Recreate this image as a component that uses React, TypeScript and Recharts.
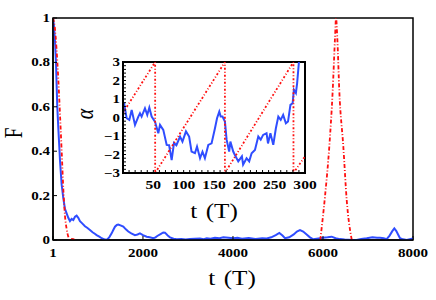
import React from "react";
import { LineChart, Line, XAxis, YAxis, ReferenceArea } from "recharts";

// main panel: fidelity F vs t (in units of T)
const blueT = [1, 20, 44, 67, 96, 120, 141, 156, 193, 229, 267, 304, 341, 378, 415, 452, 490, 526, 563, 600, 650, 711, 760, 822, 880, 930, 970, 1030, 1082, 1140, 1193, 1250, 1304, 1340, 1378, 1420, 1452, 1500, 1563, 1620, 1674, 1740, 1822, 1880, 1933, 2000, 2082, 2150, 2230, 2280, 2318, 2400, 2450, 2489, 2550, 2600, 2680, 2749, 2850, 2950, 3045, 3150, 3267, 3350, 3416, 3500, 3600, 3700, 3786, 3900, 4008, 4100, 4200, 4350, 4500, 4650, 4749, 4850, 4950, 5030, 5100, 5156, 5250, 5350, 5420, 5489, 5560, 5637, 5710, 5785, 5860, 5933, 6000, 6100, 6193, 6280, 6378, 6480, 6560, 6650, 6748, 6850, 6971, 7100, 7200, 7267, 7350, 7415, 7480, 7540, 7585, 7630, 7680, 7711, 7780, 7860, 7930, 8000];
const blueF = [1, 0.97, 0.9, 0.8, 0.6, 0.5, 0.42, 0.36, 0.25, 0.19, 0.14, 0.12, 0.1, 0.085, 0.095, 0.09, 0.105, 0.11, 0.1, 0.085, 0.075, 0.062, 0.055, 0.045, 0.035, 0.028, 0.022, 0.015, 0.008, 0.003, 0, 0.012, 0.03, 0.045, 0.06, 0.068, 0.07, 0.066, 0.06, 0.048, 0.038, 0.03, 0.022, 0.025, 0.03, 0.022, 0.015, 0.012, 0.008, 0.012, 0.018, 0.028, 0.034, 0.033, 0.02, 0.012, 0.006, 0.003, 0.005, 0.002, 0.004, 0.006, 0.007, 0.004, 0.008, 0.006, 0.01, 0.008, 0.012, 0.01, 0.008, 0.01, 0.006, 0.009, 0.005, 0.008, 0.007, 0.012, 0.022, 0.032, 0.02, 0.008, 0.012, 0.025, 0.038, 0.045, 0.038, 0.025, 0.012, 0.003, 0.006, 0.008, 0.01, 0.012, 0.015, 0.008, 0.004, 0.002, 0.001, 0, 0, 0.005, 0.008, 0.012, 0.01, 0.01, 0.008, 0.004, 0.02, 0.04, 0.052, 0.04, 0.02, 0.008, 0.003, 0, 0.004, 0.007];

const redT = [1, 40, 80, 120, 160, 200, 230, 267, 304, 341, 370, 410, 450, 480, 500, 5940, 6044, 6140, 6215, 6267, 6290, 6318, 6363, 6452, 6527, 6640];
const redF = [1, 0.96, 0.86, 0.72, 0.55, 0.37, 0.23, 0.11, 0.05, 0.015, 0, 0.005, 0.004, 0, null, 0, 0.195, 0.42, 0.67, 0.91, 1, 0.91, 0.67, 0.42, 0.18, 0];

const mainXTicks = [1, 2000, 4000, 6000, 8000];
const mainYTicks = [0, 0.2, 0.4, 0.6, 0.8, 1];

// inset: phase alpha vs t
const insetBlueT = [0, 1.6, 6, 10.4, 14.3, 19.8, 25.3, 28, 30.7, 36.2, 40, 43.4, 47.2, 52.7, 58.2, 61, 66.4, 72, 76, 80.2, 84, 88, 94, 98, 103.8, 109, 113, 118.6, 122, 127, 131, 135, 140.6, 146, 151.6, 155, 158.7, 161, 164, 168, 170.8, 175, 177, 181.7, 184, 190, 196, 198, 203.7, 208, 212, 217.5, 223, 227, 231, 236.6, 239, 243, 247.7, 252, 256, 260, 264, 268.5, 272, 276, 279.6, 281.7, 285, 287, 290];
const insetBlueA = [0.6, 0.8, -0.04, -0.13, 0.41, -0.4, 0.05, 0.23, 0.05, 0.5, 0.14, 0.54, 0.05, -0.22, -0.85, -0.4, -0.67, -1.48, -1.5, -2.3, -1.38, -1.5, -1.03, -1.3, -0.75, -1.03, -1.84, -1.93, -1.57, -2.2, -1.85, -2.2, -1.48, -1.4, -0.58, -0.04, 0.32, 0.05, 0.05, -0.22, -1.2, -1.84, -1.3, -1.84, -2.0, -2.37, -2.1, -2.55, -2.2, -2.37, -1.93, -1.75, -1.03, -1.2, -0.94, -0.85, -1.4, -0.85, -1.48, -0.58, 0.05, -0.13, 0.14, -0.31, -0.22, 0.68, 0.77, 1.5, 1.32, 1.85, 3.0];

const insetRedT = [0, 53, 53, 168, 168, 281, 281, 300];
const insetRedA = [0.25, 3, -3, 3, -3, 3, -3, -2.1];

const insetXTicks = [50, 100, 150, 200, 250, 300];
const insetYTicks = [-3, -2, -1, 0, 1, 2, 3];

const blueData = blueT.map((t, i) => ({ t, f: blueF[i] }));
const redData = redT.map((t, i) => ({ t, f: redF[i] }));
const insetBlue = insetBlueT.map((t, i) => ({ t, a: insetBlueA[i] }));
const insetRed = insetRedT.map((t, i) => ({ t, a: insetRedA[i] }));

// minor ticks of the inset frame
const insetXMinor = Array.from({ length: 31 }, (_, i) => i * 10);
const insetYMinor = Array.from({ length: 31 }, (_, i) => Math.round((-3 + i * 0.2) * 10) / 10);

const SERIF = "'Liberation Serif', 'Times New Roman', serif";
const BLUE = "#2f4dff";
const RED = "#ff1010";

const MainXTick = ({ x, y, payload }: any) => (
  <g transform={`translate(${x},${y + 17}) scale(1.25,1)`}>
    <text textAnchor="middle" fontFamily={SERIF} fontWeight="bold" fontSize={12} fill="#000">
      {payload.value}
    </text>
  </g>
);

const MainYTick = ({ x, y, payload }: any) => {
  const v = payload.value;
  const label = v === 0 || v === 1 ? String(v) : v.toFixed(1);
  return (
    <g transform={`translate(${x - 3},${y + 4}) scale(1.25,1)`}>
      <text textAnchor="end" fontFamily={SERIF} fontWeight="bold" fontSize={12} fill="#000">
        {label}
      </text>
    </g>
  );
};

const InsetXTick = ({ x, y, payload }: any) => {
  if (!insetXTicks.includes(payload.value)) return <g />;
  return (
    <g transform={`translate(${x},${y + 16}) scale(1.35,1)`}>
      <text textAnchor="middle" fontFamily={SERIF} fontWeight="bold" fontSize={11.5} fill="#000">
        {payload.value}
      </text>
    </g>
  );
};

const InsetYTick = ({ x, y, payload }: any) => {
  const v = payload.value;
  if (!insetYTicks.includes(v)) return <g />;
  const label = v < 0 ? "\u2212" + Math.abs(v) : String(v);
  return (
    <g transform={`translate(${x - 3},${y + 4}) scale(1.3,1)`}>
      <text textAnchor="end" fontFamily={SERIF} fontWeight="bold" fontSize={11.5} fill="#000">
        {label}
      </text>
    </g>
  );
};

const EmptyTick = () => <g />;

export default function App() {
  return (
    <div style={{ position: "absolute", left: 0, top: 0, width: 436, height: 300, background: "#fff" }}>
      <LineChart width={436} height={300} margin={{ top: 18, right: 23, bottom: 30, left: 13 }}>
        <XAxis
          dataKey="t"
          type="number"
          domain={[1, 8000]}
          ticks={mainXTicks}
          interval={0}
          allowDataOverflow
          height={30}
          axisLine={{ stroke: "#000", strokeWidth: 1.5 }}
          tickLine={{ stroke: "#000" }}
          tickSize={-4}
          tickMargin={4}
          tick={<MainXTick />}
        />
        <YAxis
          dataKey="f"
          type="number"
          domain={[0, 1]}
          ticks={mainYTicks}
          interval={0}
          allowDataOverflow
          width={40}
          axisLine={{ stroke: "#000", strokeWidth: 1.5 }}
          tickLine={{ stroke: "#000" }}
          tickSize={-4}
          tickMargin={4}
          tick={<MainYTick />}
        />
        <ReferenceArea x1={1} x2={8000} y1={0} y2={1} fill="none" stroke="#000" strokeWidth={1.5} />
        <Line data={blueData} dataKey="f" type="linear" stroke={BLUE} strokeWidth={2} dot={false} isAnimationActive={false} />
        <Line
          data={redData}
          dataKey="f"
          type="monotone"
          stroke={RED}
          strokeWidth={1.8}
          strokeDasharray="4 2 1 2"
          dot={false}
          connectNulls={false}
          isAnimationActive={false}
        />
      </LineChart>

      <div style={{ position: "absolute", left: 80, top: 50 }}>
        <LineChart width={240} height={175} margin={{ top: 12, right: 15, bottom: 32, left: 18 }}>
          <XAxis
            dataKey="t"
            type="number"
            domain={[0, 300]}
            ticks={insetXMinor}
            interval={0}
            allowDataOverflow
            height={20}
            axisLine={{ stroke: "#000", strokeWidth: 2 }}
            tickLine={{ stroke: "#000" }}
            tickSize={-3}
            tickMargin={3}
            tick={<InsetXTick />}
          />
          <XAxis
            xAxisId="top"
            orientation="top"
            type="number"
            domain={[0, 300]}
            ticks={insetXMinor}
            interval={0}
            allowDataOverflow
            height={0}
            axisLine={false}
            tickLine={{ stroke: "#000" }}
            tickSize={-3}
            tick={<EmptyTick />}
          />
          <YAxis
            dataKey="a"
            type="number"
            domain={[-3, 3]}
            ticks={insetYMinor}
            interval={0}
            allowDataOverflow
            width={25}
            axisLine={{ stroke: "#000", strokeWidth: 2 }}
            tickLine={{ stroke: "#000" }}
            tickSize={-3}
            tickMargin={3}
            tick={<InsetYTick />}
          />
          <YAxis
            yAxisId="right"
            orientation="right"
            type="number"
            domain={[-3, 3]}
            ticks={insetYMinor}
            interval={0}
            allowDataOverflow
            width={0}
            axisLine={false}
            tickLine={{ stroke: "#000" }}
            tickSize={-3}
            tick={<EmptyTick />}
          />
          <ReferenceArea x1={0} x2={300} y1={-3} y2={3} fill="none" stroke="#000" strokeWidth={2} />
          <Line data={insetBlue} dataKey="a" type="linear" stroke={BLUE} strokeWidth={2} dot={false} isAnimationActive={false} />
          <Line
            data={insetRed}
            dataKey="a"
            type="linear"
            stroke={RED}
            strokeWidth={1.8}
            strokeDasharray="2 2 1 2"
            dot={false}
            isAnimationActive={false}
          />
        </LineChart>
      </div>

      <svg width={436} height={300} style={{ position: "absolute", left: 0, top: 0, pointerEvents: "none" }}>
        <g transform="translate(22,133) scale(1.3,1) rotate(-90)">
          <text textAnchor="middle" fontFamily={SERIF} fontSize={19} fill="#000">F</text>
        </g>
        <g transform="translate(93,114) scale(1.3,1) rotate(-90)">
          <text textAnchor="middle" fontFamily={SERIF} fontStyle="italic" fontSize={20} fill="#000">α</text>
        </g>
        <g transform="translate(232,285) scale(1.2,1)">
          <text textAnchor="middle" fontFamily={SERIF} fontSize={21} fill="#000">
            t<tspan dx={7}>(T)</tspan>
          </text>
        </g>
        <g transform="translate(214,218) scale(1.2,1)">
          <text textAnchor="middle" fontFamily={SERIF} fontSize={21} fill="#000">
            t<tspan dx={7}>(T)</tspan>
          </text>
        </g>
      </svg>
    </div>
  );
}
